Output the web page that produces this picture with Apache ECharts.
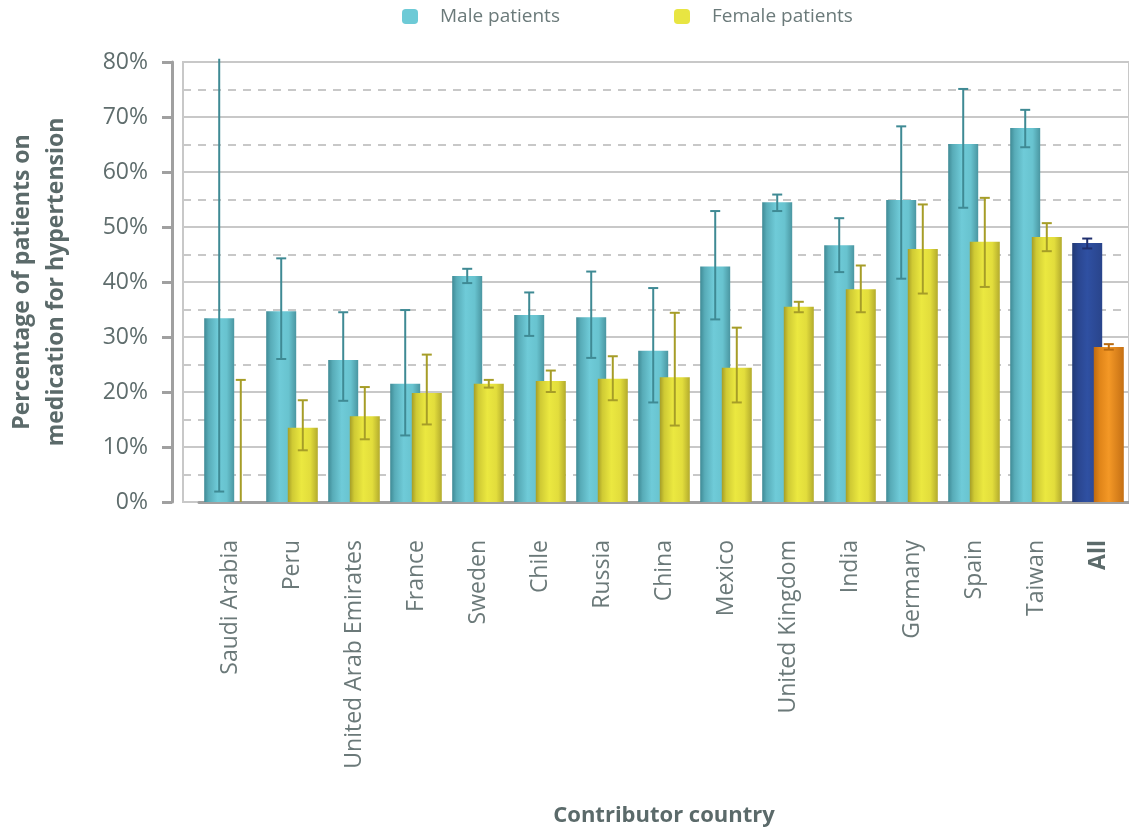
<!DOCTYPE html>
<html>
<head>
<meta charset="utf-8">
<script src="https://cdn.jsdelivr.net/npm/echarts@6/dist/echarts.min.js"></script>
<style>
  html, body { margin: 0; padding: 0; background: #fff; }
  #chart { width: 1129px; height: 834px; }
</style>
</head>
<body>
<div id="chart"></div>
<script>
var countries = ['Saudi Arabia', 'Peru', 'United Arab Emirates', 'France', 'Sweden', 'Chile', 'Russia',
  'China', 'Mexico', 'United Kingdom', 'India', 'Germany', 'Spain', 'Taiwan', 'All']

// percent of patients on medication, with error bar bounds
var maleValues = [33.4, 34.7, 25.8, 21.5, 41.1, 34.0, 33.6, 27.5, 42.8, 54.5, 46.7, 54.9, 65.1, 68.0, 47.1]
var maleLow    = [1.9, 26.0, 18.4, 12.1, 39.8, 30.2, 26.2, 18.1, 33.2, 52.9, 41.8, 40.6, 53.5, 64.5, 46.1]
var maleHigh   = [80.6, 44.3, 34.5, 34.9, 42.4, 38.1, 41.9, 38.9, 52.9, 55.9, 51.6, 68.3, 75.1, 71.3, 47.9]

var femaleValues = [0, 13.5, 15.6, 19.8, 21.5, 22.0, 22.4, 22.7, 24.4, 35.5, 38.7, 46.0, 47.3, 48.2, 28.2]
var femaleLow    = [0, 9.4, 11.4, 14.1, 20.8, 20.0, 18.5, 13.9, 18.1, 34.5, 34.5, 37.9, 39.1, 45.6, 27.7]
var femaleHigh   = [22.2, 18.5, 20.9, 26.8, 22.2, 23.9, 26.5, 34.4, 31.7, 36.4, 43.0, 54.1, 55.3, 50.7, 28.7]

var yTicks = [0, 10, 20, 30, 40, 50, 60, 70, 80]

function grad (stops) {
  return new echarts.graphic.LinearGradient(0, 0, 1, 0, stops.map(function (c) {
    return { offset: c[0], color: c[1] }
  }))
}
var maleFill = grad([[0, '#3f8a95'], [0.15, '#58acb8'], [0.45, '#6fcbd8'], [0.75, '#68c3cf'], [1, '#4a96a1']])
var femaleFill = grad([[0, '#a59d27'], [0.15, '#cfca34'], [0.45, '#ebe840'], [0.75, '#e2dd3c'], [1, '#b3ab2d']])
var allMaleFill = grad([[0, '#223975'], [0.2, '#2a4690'], [0.5, '#2f50a2'], [1, '#29448b']])
var allFemaleFill = grad([[0, '#bd6a12'], [0.2, '#e08519'], [0.5, '#f49826'], [1, '#c57014']])

var last = countries.length - 1
var maleData = maleValues.map(function (v, i) {
  return i === last ? { value: v, itemStyle: { color: allMaleFill } } : v
})
var femaleData = femaleValues.map(function (v, i) {
  return i === last ? { value: v, itemStyle: { color: allFemaleFill } } : v
})

var errData = []
for (var i = 0; i < countries.length; i++) {
  errData.push([i, maleLow[i], maleHigh[i], 0])
  errData.push([i, femaleLow[i], femaleHigh[i], 1])
}

var errColors = [['#3f8a94', '#1f2f6e'], ['#a69d28', '#b8690f']]

var chart = echarts.init(document.getElementById('chart'))
var option = {
  animation: false,
  textStyle: { fontFamily: 'Open Sans' },
  legend: [
    {
      data: [{ name: 'Male patients', itemStyle: { color: '#6dcad6' } }],
      left: 402, top: 7, padding: 0, itemWidth: 16, itemHeight: 15, icon: 'roundRect',
      textStyle: { fontSize: 19, color: '#6b7a7a', padding: [0, 0, 0, 17] }
    },
    {
      data: [{ name: 'Female patients', itemStyle: { color: '#e8e542' } }],
      left: 674, top: 7, padding: 0, itemWidth: 16, itemHeight: 15, icon: 'roundRect',
      textStyle: { fontSize: 19, color: '#6b7a7a', padding: [0, 0, 0, 17] }
    }
  ],
  grid: [
    { left: 183, right: 0, top: 62, bottom: 332, show: true, borderColor: '#c8c8c8', borderWidth: 2, outerBoundsMode: 'none' },
    { left: 199, right: 0, top: 62, bottom: 332, outerBoundsMode: 'none' }
  ],
  xAxis: [
    {
      gridIndex: 1,
      type: 'category',
      data: countries,
      offset: 10,
      axisLine: { lineStyle: { color: '#a0a0a0', width: 3 } },
      axisTick: { length: 8, interval: 0, lineStyle: { color: '#a0a0a0', width: 3 } },
      axisLabel: {
        rotate: 90, interval: 0, margin: 28, fontSize: 23, color: '#6b7979',
        formatter: function (v) { return v === 'All' ? '{b|' + v + '}' : v },
        rich: { b: { fontWeight: 'bold', fontSize: 23, color: '#5b6a6a' } }
      },
      name: 'Contributor country',
      nameLocation: 'middle',
      nameGap: 293,
      nameTextStyle: { fontSize: 22, fontWeight: 'bold', color: '#5b6a6a' }
    },
    { gridIndex: 0, type: 'category', show: false }
  ],
  yAxis: [
    {
      gridIndex: 0,
      type: 'value',
      min: yTicks[0], max: yTicks[yTicks.length - 1], interval: 10,
      offset: 11,
      axisLine: { show: true, lineStyle: { color: '#a0a0a0', width: 3 } },
      axisTick: { show: true, length: 10, lineStyle: { color: '#a0a0a0', width: 3 } },
      axisLabel: { formatter: '{value}%', fontSize: 23, color: '#5f6d6d', margin: 24 },
      splitLine: { lineStyle: { color: '#c8c8c8', width: 2 } },
      minorTick: { show: false, splitNumber: 2 },
      minorSplitLine: { show: true, lineStyle: { color: '#c8c8c8', width: 2, type: [8, 7] } },
      name: 'Percentage of patients on\nmedication for hypertension',
      nameLocation: 'middle',
      nameRotate: 90,
      nameGap: 99,
      nameTextStyle: { fontSize: 23, fontWeight: 'bold', color: '#5b6a6a', lineHeight: 34 }
    },
    { gridIndex: 1, type: 'value', min: 0, max: 80, show: false }
  ],
  series: [
    {
      name: 'Male patients', type: 'bar', xAxisIndex: 0, yAxisIndex: 1,
      data: maleData, barWidth: 30, barGap: '-28%',
      itemStyle: { color: maleFill }
    },
    {
      name: 'Female patients', type: 'bar', xAxisIndex: 0, yAxisIndex: 1,
      data: femaleData, barWidth: 30,
      itemStyle: { color: femaleFill }
    },
    {
      type: 'custom', xAxisIndex: 0, yAxisIndex: 1, z: 10,
      data: errData,
      renderItem: function (params, api) {
        var idx = api.value(0)
        var band = api.size([1, 0])[0]
        var off = band * 0.174 * (api.value(3) === 0 ? -1 : 1)
        var x = api.coord([idx, 0])[0] + off
        var lo = api.coord([idx, api.value(1)])[1]
        var hi = api.coord([idx, api.value(2)])[1]
        var col = errColors[api.value(3)][idx === last ? 1 : 0]
        var style = { stroke: col, lineWidth: 2 }
        var kids = [{ type: 'line', shape: { x1: x, y1: lo, x2: x, y2: hi }, style: style }]
        if (api.value(2) <= 80) {
          kids.push({ type: 'line', shape: { x1: x - 5, y1: hi, x2: x + 5, y2: hi }, style: style })
        }
        if (api.value(1) > 0) {
          kids.push({ type: 'line', shape: { x1: x - 5, y1: lo, x2: x + 5, y2: lo }, style: style })
        }
        return { type: 'group', children: kids }
      }
    }
  ]
}
chart.setOption(option)
</script>
</body>
</html>
